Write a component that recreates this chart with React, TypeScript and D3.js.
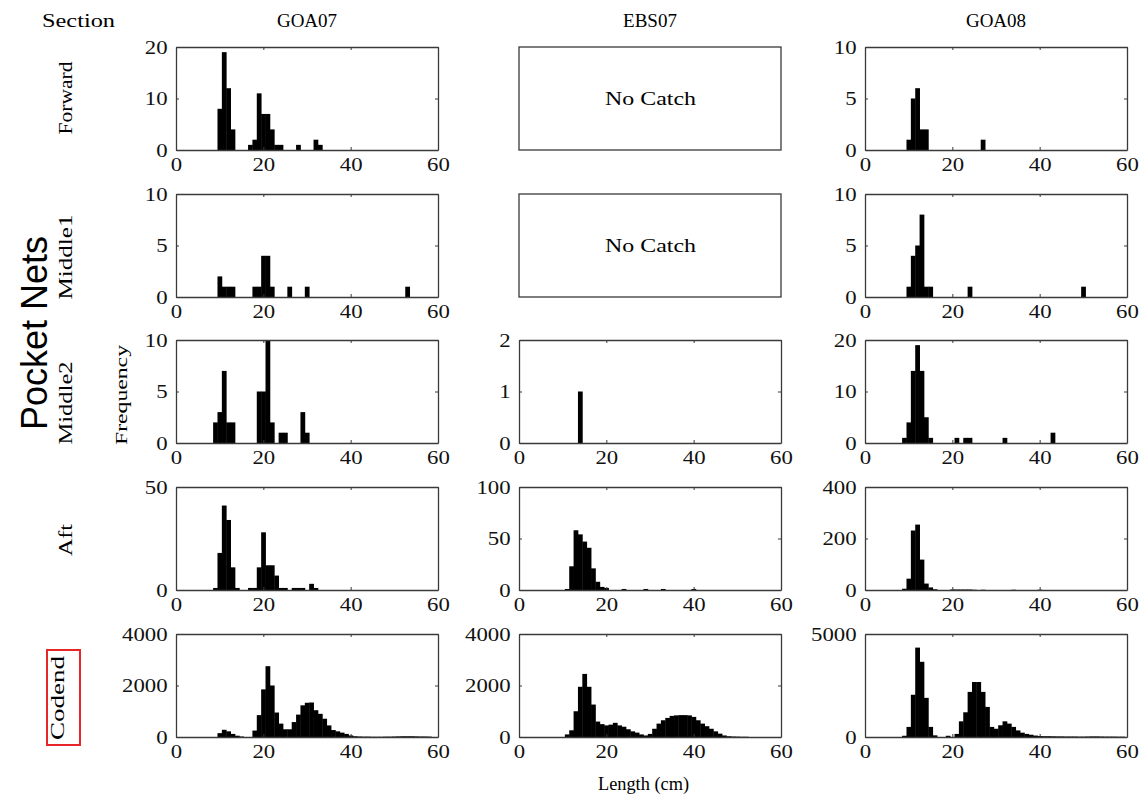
import React, { useEffect, useRef } from 'react'
import * as d3 from 'd3'

// sections (rows) and cruises (columns)
const sections = ['Forward', 'Middle1', 'Middle2', 'Aft', 'Codend']
const cruises = ['GOA07', 'EBS07', 'GOA08']
const lengthTicks = [0, 20, 40, 60]

// [length bin (cm), frequency]
const goa07Forward = [[10, 8], [11, 19], [12, 12], [13, 4], [17, 1], [18, 2], [19, 11], [20, 7], [21, 7], [22, 4], [23, 1], [24, 1], [28, 1], [32, 2], [33, 1]]
const goa08Forward = [[10, 1], [11, 5], [12, 6], [13, 2], [14, 2], [27, 1]]
const goa07Middle1 = [[10, 2], [11, 1], [12, 1], [13, 1], [18, 1], [19, 1], [20, 4], [21, 4], [22, 1], [26, 1], [30, 1], [53, 1]]
const goa08Middle1 = [[10, 1], [11, 4], [12, 5], [13, 8], [14, 1], [15, 1], [24, 1], [50, 1]]
const goa07Middle2 = [[9, 2], [10, 3], [11, 7], [12, 2], [13, 2], [19, 5], [20, 5], [21, 10], [22, 2], [24, 1], [25, 1], [29, 3], [30, 1]]
const ebs07Middle2 = [[14, 1]]
const goa08Middle2 = [[9, 1], [10, 4], [11, 14], [12, 19], [13, 14], [14, 5], [15, 1], [21, 1], [23, 1], [24, 1], [32, 1], [43, 2]]
const goa07Aft = [[9, 1], [10, 18], [11, 41], [12, 34], [13, 11], [14, 1], [17, 1], [18, 1], [19, 11], [20, 28], [21, 12], [22, 12], [23, 7], [24, 1], [25, 1], [27, 1], [28, 1], [29, 1], [31, 3], [32, 1]]
const ebs07Aft = [[11, 1], [12, 23], [13, 58], [14, 54], [15, 47], [16, 41], [17, 21], [18, 8], [19, 3], [20, 2], [24, 1], [29, 1], [33, 1], [40, 1]]
const goa08Aft = [[9, 5], [10, 44], [11, 231], [12, 254], [13, 118], [14, 25], [15, 10], [16, 3], [20, 2], [21, 2], [22, 2], [23, 2], [24, 2], [25, 1], [27, 1], [34, 1], [40, 1]]
const goa07Codend = [[10, 150], [11, 280], [12, 220], [13, 120], [14, 50], [15, 20], [18, 250], [19, 850], [20, 1850], [21, 2750], [22, 2000], [23, 950], [24, 520], [25, 300], [26, 300], [27, 580], [28, 870], [29, 1230], [30, 1330], [31, 1340], [32, 1040], [33, 900], [34, 710], [35, 450], [36, 270], [37, 220], [38, 170], [39, 120], [40, 60], [41, 30], [42, 20], [43, 15], [44, 15], [45, 10], [46, 10], [47, 10], [48, 15], [49, 15], [50, 20], [51, 25], [52, 30], [53, 30], [54, 30], [55, 25], [56, 20], [57, 20], [58, 15]]
const ebs07Codend = [[11, 100], [12, 260], [13, 1000], [14, 1950], [15, 2450], [16, 1950], [17, 1260], [18, 600], [19, 500], [20, 450], [21, 480], [22, 550], [23, 450], [24, 400], [25, 300], [26, 220], [27, 170], [28, 100], [29, 60], [30, 120], [31, 320], [32, 520], [33, 650], [34, 740], [35, 820], [36, 840], [37, 850], [38, 850], [39, 840], [40, 780], [41, 650], [42, 520], [43, 420], [44, 320], [45, 220], [46, 130], [47, 60], [48, 30], [49, 20], [50, 15], [51, 10], [52, 10]]
const goa08Codend = [[9, 60], [10, 490], [11, 2050], [12, 4340], [13, 3650], [14, 1900], [15, 490], [16, 80], [19, 60], [21, 150], [22, 760], [23, 1200], [24, 2190], [25, 2670], [26, 2670], [27, 2190], [28, 1460], [29, 490], [30, 400], [31, 570], [32, 760], [33, 650], [34, 490], [35, 320], [36, 210], [37, 150], [38, 110], [39, 70], [40, 50], [41, 40], [42, 40], [43, 35], [44, 30], [45, 30], [46, 25], [47, 25], [48, 25], [49, 20], [50, 20], [51, 25], [52, 30], [53, 30], [54, 25], [55, 20], [56, 20], [57, 20], [58, 15], [59, 15]]

// y tick labels per panel, row by row (null = "No Catch")
const yTicks = [
  [[0, 10, 20], null, [0, 5, 10]],
  [[0, 5, 10], null, [0, 5, 10]],
  [[0, 5, 10], [0, 1, 2], [0, 10, 20]],
  [[0, 50], [0, 50, 100], [0, 200, 400]],
  [[0, 2000, 4000], [0, 2000, 4000], [0, 5000]],
]
const panelData = [
  [goa07Forward, null, goa08Forward],
  [goa07Middle1, null, goa08Middle1],
  [goa07Middle2, ebs07Middle2, goa08Middle2],
  [goa07Aft, ebs07Aft, goa08Aft],
  [goa07Codend, ebs07Codend, goa08Codend],
]

const colLeft = [176, 519, 865]
const rowTop = [47, 194, 340, 487, 634]
const pw = 262
const ph = 103
// row label placement (centre y, text length)
const labelY = [98, 257, 403, 540, 698]
const labelLen = [73, 85, 83, 32, 84]
const serif = '"Liberation Serif", "Times New Roman", serif'

export default function App() {
  const ref = useRef<SVGSVGElement>(null)

  useEffect(() => {
    const svg = d3.select(ref.current)
    svg.selectAll('*').remove()
    const frameColor = '#3a3a3a'

    svg.append('text').attr('x', 42).attr('y', 27).text('Section')
      .attr('font-family', serif).attr('font-size', 18)
      .attr('textLength', 73).attr('lengthAdjust', 'spacingAndGlyphs')

    cruises.forEach((c, j) => {
      svg.append('text').attr('x', colLeft[j] + pw / 2).attr('y', 27)
        .attr('text-anchor', 'middle').attr('font-family', serif).attr('font-size', 19).text(c)
    })

    sections.forEach((s, i) => {
      svg.append('text')
        .attr('transform', `translate(${i === 4 ? 64 : 72},${labelY[i]}) rotate(-90)`)
        .attr('x', -labelLen[i] / 2)
        .attr('font-family', serif).attr('font-size', 19)
        .attr('textLength', labelLen[i]).attr('lengthAdjust', 'spacingAndGlyphs').text(s)
    })

    // red box around Codend
    svg.append('rect').attr('x', 47).attr('y', 650).attr('width', 33).attr('height', 95)
      .attr('fill', 'none').attr('stroke', '#e8262a').attr('stroke-width', 2)

    svg.append('text').attr('transform', 'translate(47,333) rotate(-90)')
      .attr('text-anchor', 'middle').attr('font-family', '"Liberation Sans", Arial, sans-serif')
      .attr('font-size', 36).text('Pocket Nets')

    svg.append('text').attr('transform', 'translate(127,395) rotate(-90)')
      .attr('x', -50).attr('font-family', serif).attr('font-size', 17)
      .attr('textLength', 100).attr('lengthAdjust', 'spacingAndGlyphs').text('Frequency')

    svg.append('text').attr('x', 598).attr('y', 790)
      .attr('font-family', serif).attr('font-size', 18)
      .attr('textLength', 91).attr('lengthAdjust', 'spacingAndGlyphs').text('Length (cm)')

    panelData.forEach((row, i) => {
      row.forEach((data, j) => {
        const x = d3.scaleLinear().domain([0, 60]).range([colLeft[j], colLeft[j] + pw])
        const top = rowTop[i]
        const g = svg.append('g')

        if (!data) {
          g.append('rect').attr('x', colLeft[j]).attr('y', top).attr('width', pw).attr('height', ph)
            .attr('fill', 'none').attr('stroke', frameColor).attr('stroke-width', 1.3)
          g.append('text').attr('x', colLeft[j] + pw / 2 - 45).attr('y', top + ph / 2 + 6)
            .attr('font-family', serif).attr('font-size', 19)
            .attr('textLength', 91).attr('lengthAdjust', 'spacingAndGlyphs').text('No Catch')
          return
        }

        const ticks = yTicks[i][j] as number[]
        const y = d3.scaleLinear().domain([0, ticks[ticks.length - 1]]).range([top + ph, top])

        g.selectAll('rect.bar').data(data).enter().append('rect')
          .attr('class', 'bar')
          .attr('x', d => x(d[0] - 0.5))
          .attr('width', d => x(d[0] + 0.5) - x(d[0] - 0.5) + 0.4)
          .attr('y', d => y(d[1]))
          .attr('height', d => y(0) - y(d[1]))
          .attr('fill', '#000')

        const styleAxis = (a: any) => {
          a.attr('font-family', serif).attr('font-size', 19).style('color', frameColor)
          // the original's digits are noticeably wider than Times
          a.selectAll('text').attr('fill', '#111').attr('transform', 'scale(1.2,1)')
          a.selectAll('path').attr('stroke-width', 1.3)
        }

        g.append('g').attr('transform', `translate(0,${top + ph})`)
          .call(d3.axisBottom(x).tickValues(lengthTicks).tickSizeInner(-3).tickSizeOuter(0).tickPadding(8).tickFormat(d3.format('d')))
          .call(styleAxis)
        g.append('g').attr('transform', `translate(0,${top})`)
          .call(d3.axisTop(x).tickValues(lengthTicks).tickSizeInner(-3).tickSizeOuter(0).tickFormat(() => ''))
          .call(styleAxis)
        g.append('g').attr('transform', `translate(${colLeft[j]},0)`)
          .call(d3.axisLeft(y).tickValues(ticks).tickSizeInner(-3).tickSizeOuter(0).tickPadding(7).tickFormat(d3.format('d')))
          .call(styleAxis)
        g.append('g').attr('transform', `translate(${colLeft[j] + pw},0)`)
          .call(d3.axisRight(y).tickValues(ticks).tickSizeInner(-3).tickSizeOuter(0).tickFormat(() => ''))
          .call(styleAxis)
      })
    })
  }, [])

  return (
    <svg ref={ref} width={1141} height={796}
      style={{ position: 'absolute', left: 0, top: 0, background: '#fff' }} />
  )
}
